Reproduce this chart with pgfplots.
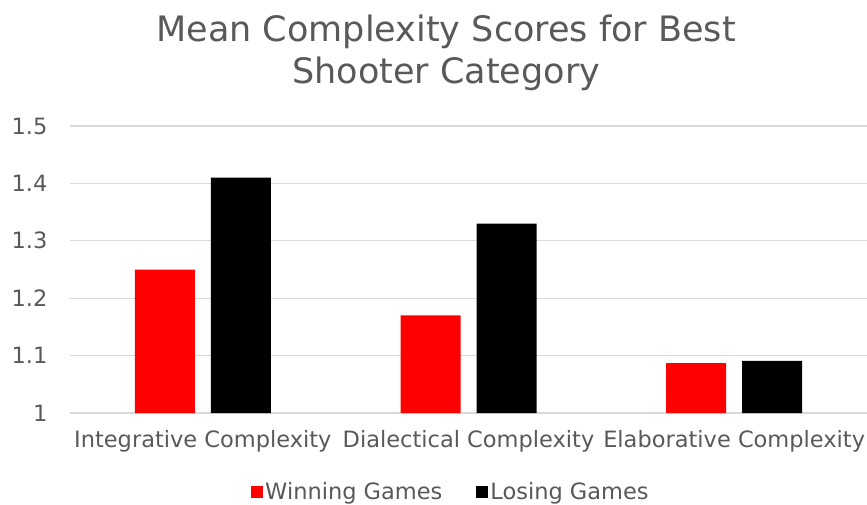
\documentclass[border=0pt]{standalone}
\usepackage{pgfplots}
\pgfplotsset{compat=1.18}
\usepackage{fontspec}
\setmainfont{DejaVu Sans}
\definecolor{txt}{HTML}{595959}
\definecolor{gridc}{HTML}{D9D9D9}
\definecolor{winred}{HTML}{FF0000}
\begin{document}
\begin{tikzpicture}[x=1pt,y=1pt]
\begin{axis}[
  at={(70pt,91pt)}, anchor=south west,
  scale only axis, width=797pt, height=287pt,
  ybar=16pt, bar width=60pt,
  xmin=-0.5, xmax=2.5, ymin=1, ymax=1.5,
  xtick={0,1,2},
  xticklabels={Integrative Complexity, Dialectical Complexity, Elaborative Complexity},
  ytick={1,1.1,1.2,1.3,1.4,1.5},
  yticklabel style={/pgf/number format/fixed, /pgf/number format/assume math mode=true},
  tick style={draw=none},
  xmajorgrids=false, ymajorgrids=true, grid style={draw=gridc, line width=1.2pt},
  axis x line*=bottom, axis y line*=left,
  x axis line style={draw=gridc, line width=1.2pt, -},
  y axis line style={draw=none},
  ticklabel style={font=\fontsize{22.5}{24}\selectfont, text=txt},
  xticklabel style={yshift=-10pt},
  yticklabel style={xshift=-19pt},
  title={Mean Complexity Scores for Best\\Shooter Category},
  title style={at={(rel axis cs:0.472,1.233)}, anchor=center, align=center, font=\fontsize{35}{42}\selectfont, text=txt},
  legend style={at={(rel axis cs:0.478,-0.275)}, anchor=center, draw=none, legend columns=2, font=\fontsize{22.5}{24}\selectfont, text=txt, /tikz/every even column/.append style={column sep=32pt}},
  legend image code/.code={\fill[#1] (0pt,-6pt) rectangle (12pt,6pt);},
  clip=false,
]
\addplot[fill=winred, draw=none] coordinates {(0,1.25) (1,1.17) (2,1.087)};
\addplot[fill=black, draw=none] coordinates {(0,1.41) (1,1.33) (2,1.091)};
\legend{Winning Games, Losing Games}
\end{axis}
\pgfresetboundingbox
\path (0pt,0pt) rectangle (867pt,504pt);
\end{tikzpicture}
\end{document}
